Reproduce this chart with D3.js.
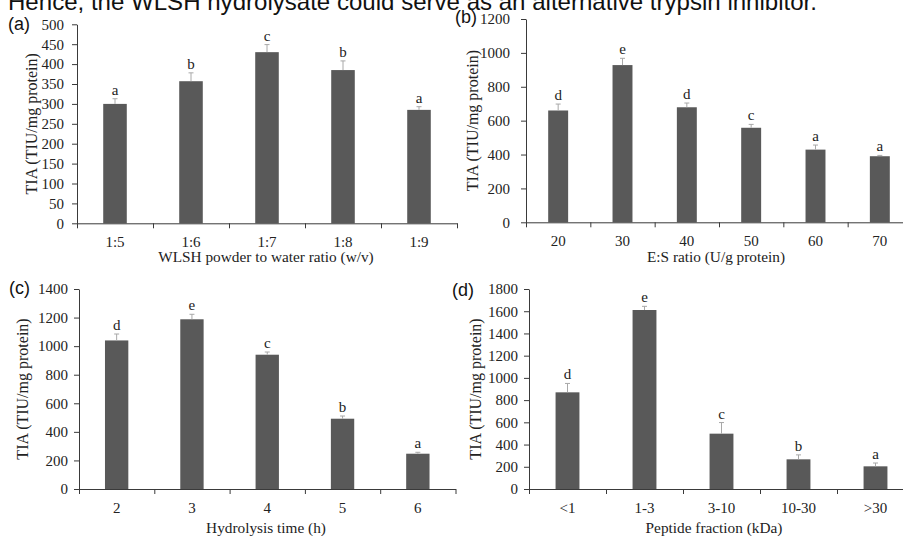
<!DOCTYPE html>
<html>
<head>
<meta charset="utf-8">
<script src="https://cdn.jsdelivr.net/npm/d3@7"></script>
<style>
    body { margin: 0; background: #fff; }
    svg { display: block; }
    .tick text { font-family: "Liberation Serif", "Times New Roman", serif; fill: #222; }
</style>
</head>
<body>
<svg width="903" height="536"></svg>
<script>

// (a) powder to water ratio
const ratioLabels = ["1:5", "1:6", "1:7", "1:8", "1:9"]
const ratioTIA = [300, 357, 430, 385, 285]
const ratioErr = [13, 21, 19, 23, 8]
const ratioLetters = ["a", "b", "c", "b", "a"]
const ratioTicks = [0, 50, 100, 150, 200, 250, 300, 350, 400, 450, 500]

// (b) E:S ratio
const esLabels = ["20", "30", "40", "50", "60", "70"]
const esTIA = [660, 928, 679, 558, 429, 390]
const esErr = [38, 40, 25, 20, 27, 5]
const esLetters = ["d", "e", "d", "c", "a", "a"]
const esTicks = [0, 200, 400, 600, 800, 1000, 1200]

// (c) hydrolysis time
const timeLabels = ["2", "3", "4", "5", "6"]
const timeTIA = [1040, 1188, 940, 492, 247]
const timeErr = [45, 35, 19, 19, 10]
const timeLetters = ["d", "e", "c", "b", "a"]
const timeTicks = [0, 200, 400, 600, 800, 1000, 1200, 1400]

// (d) peptide fraction
const fracLabels = ["<1", "1-3", "3-10", "10-30", ">30"]
const fracTIA = [870, 1611, 498, 267, 204]
const fracErr = [80, 33, 100, 40, 30]
const fracLetters = ["d", "e", "c", "b", "a"]
const fracTicks = [0, 200, 400, 600, 800, 1000, 1200, 1400, 1600, 1800]

const yTitle = "TIA (TIU/mg protein)"
const serif = "'Liberation Serif', 'Times New Roman', serif"
const sans = "'Liberation Sans', Arial, sans-serif"

const svg = d3.select("svg")

// cropped sentence from the page above the figure
svg.append("text")
    .attr("x", 8)
    .attr("y", 9.5)
    .attr("font-family", sans)
    .attr("font-size", 24)
    .attr("fill", "#111")
    .attr("textLength", 809)
    .attr("lengthAdjust", "spacingAndGlyphs")
    .text("Hence, the WLSH hydrolysate could serve as an alternative trypsin inhibitor.")

const panels = [
    { tag: "(a)", tagX: 8, tagY: 30, labels: ratioLabels, values: ratioTIA, err: ratioErr, letters: ratioLetters,
      ticks: ratioTicks, x0: 77, x1: 457, yTop: 24.3, yBottom: 223.3, tickPad: 8,
      xTitle: "WLSH powder to water ratio (w/v)", xTitleX: 266, xTitleY: 262, yTitleX: 36.5 },
    { tag: "(b)", tagX: 455, tagY: 23, labels: esLabels, values: esTIA, err: esErr, letters: esLetters,
      ticks: esTicks, x0: 526, x1: 912, yTop: 19, yBottom: 222.3, tickPad: 11,
      xTitle: "E:S ratio (U/g protein)", xTitleX: 716, xTitleY: 262, yTitleX: 477.5 },
    { tag: "(c)", tagX: 9, tagY: 294, labels: timeLabels, values: timeTIA, err: timeErr, letters: timeLetters,
      ticks: timeTicks, x0: 79, x1: 455.5, yTop: 289, yBottom: 489, tickPad: 6,
      xTitle: "Hydrolysis time (h)", xTitleX: 266, xTitleY: 533, yTitleX: 27.5 },
    { tag: "(d)", tagX: 452, tagY: 296, labels: fracLabels, values: fracTIA, err: fracErr, letters: fracLetters,
      ticks: fracTicks, x0: 529, x1: 914, yTop: 289, yBottom: 489, tickPad: 6,
      xTitle: "Peptide fraction (kDa)", xTitleX: 714, xTitleY: 533, yTitleX: 480.5 }
]

panels.forEach(p => drawPanel(p))

function drawPanel(p){

    const n = p.labels.length
    const g = svg.append("g")

    //Scales
    const xScale = d3.scaleBand()
        .domain(p.labels)
        .range([p.x0, p.x1])
        .paddingInner(0.69)
        .paddingOuter(0.345)

    // index scale, used for the ticks between categories
    const xEdge = d3.scaleLinear()
        .domain([0, n])
        .range([p.x0, p.x1])

    const yScale = d3.scaleLinear()
        .domain([0, d3.max(p.ticks)])
        .range([p.yBottom, p.yTop])

    //Bars
    g.selectAll(".bar")
        .data(p.values)
        .enter()
        .append("rect")
        .attr("class", "bar")
        .attr("x", (d, i) => xScale(p.labels[i]))
        .attr("y", d => yScale(d))
        .attr("width", xScale.bandwidth())
        .attr("height", d => yScale(0) - yScale(d))
        .attr("fill", "#595959")

    //Error bars (upper half only)
    const cx = i => xScale(p.labels[i]) + xScale.bandwidth() / 2
    const errTop = (d, i) => yScale(d + p.err[i])

    g.selectAll(".err")
        .data(p.values)
        .enter()
        .append("line")
        .attr("x1", (d, i) => cx(i))
        .attr("x2", (d, i) => cx(i))
        .attr("y1", d => yScale(d))
        .attr("y2", errTop)
        .attr("stroke", "#a8a8a8")
        .attr("stroke-width", 1)

    g.selectAll(".cap")
        .data(p.values)
        .enter()
        .append("line")
        .attr("x1", (d, i) => cx(i) - 2.5)
        .attr("x2", (d, i) => cx(i) + 2.5)
        .attr("y1", errTop)
        .attr("y2", errTop)
        .attr("stroke", "#a8a8a8")
        .attr("stroke-width", 1)

    //Significance letters
    g.selectAll(".letter")
        .data(p.values)
        .enter()
        .append("text")
        .attr("x", (d, i) => cx(i))
        .attr("y", (d, i) => errTop(d, i) - 4)
        .attr("text-anchor", "middle")
        .attr("font-family", serif)
        .attr("font-size", 15)
        .attr("fill", "#222")
        .text((d, i) => p.letters[i])

    //Axes
    const axisLeft = d3.axisLeft(yScale)
        .tickValues(p.ticks)
        .tickFormat(d3.format("d"))
        .tickSize(5)
        .tickSizeOuter(0)
        .tickPadding(p.tickPad)

    g.append("g")
        .attr("transform", `translate(${p.x0}, 0)`)
        .call(axisLeft)
        .call(a => a.selectAll("text").attr("font-size", 15))

    const axisEdges = d3.axisBottom(xEdge)
        .ticks(n)
        .tickSize(5)
        .tickSizeOuter(0)
        .tickFormat("")

    g.append("g")
        .attr("transform", `translate(0, ${p.yBottom})`)
        .call(axisEdges)

    const axisLabels = d3.axisBottom(xScale)
        .tickSize(0)
        .tickPadding(13.5)

    g.append("g")
        .attr("transform", `translate(0, ${p.yBottom})`)
        .call(axisLabels)
        .call(a => a.select(".domain").remove())
        .call(a => a.selectAll("text").attr("font-size", 15))

    g.selectAll(".domain, .tick line")
        .attr("stroke", "#3a3a3a")

    //Titles
    g.append("text")
        .attr("x", p.xTitleX)
        .attr("y", p.xTitleY)
        .attr("text-anchor", "middle")
        .attr("font-family", serif)
        .attr("font-size", 15.3)
        .attr("fill", "#222")
        .text(p.xTitle)

    g.append("text")
        .attr("transform", `translate(${p.yTitleX}, ${(p.yTop + p.yBottom) / 2}) rotate(-90)`)
        .attr("text-anchor", "middle")
        .attr("font-family", serif)
        .attr("font-size", 16)
        .attr("fill", "#222")
        .text(yTitle)

    g.append("text")
        .attr("x", p.tagX)
        .attr("y", p.tagY)
        .attr("font-family", sans)
        .attr("font-size", 18)
        .attr("fill", "#111")
        .text(p.tag)
}
</script>
</body>
</html>
